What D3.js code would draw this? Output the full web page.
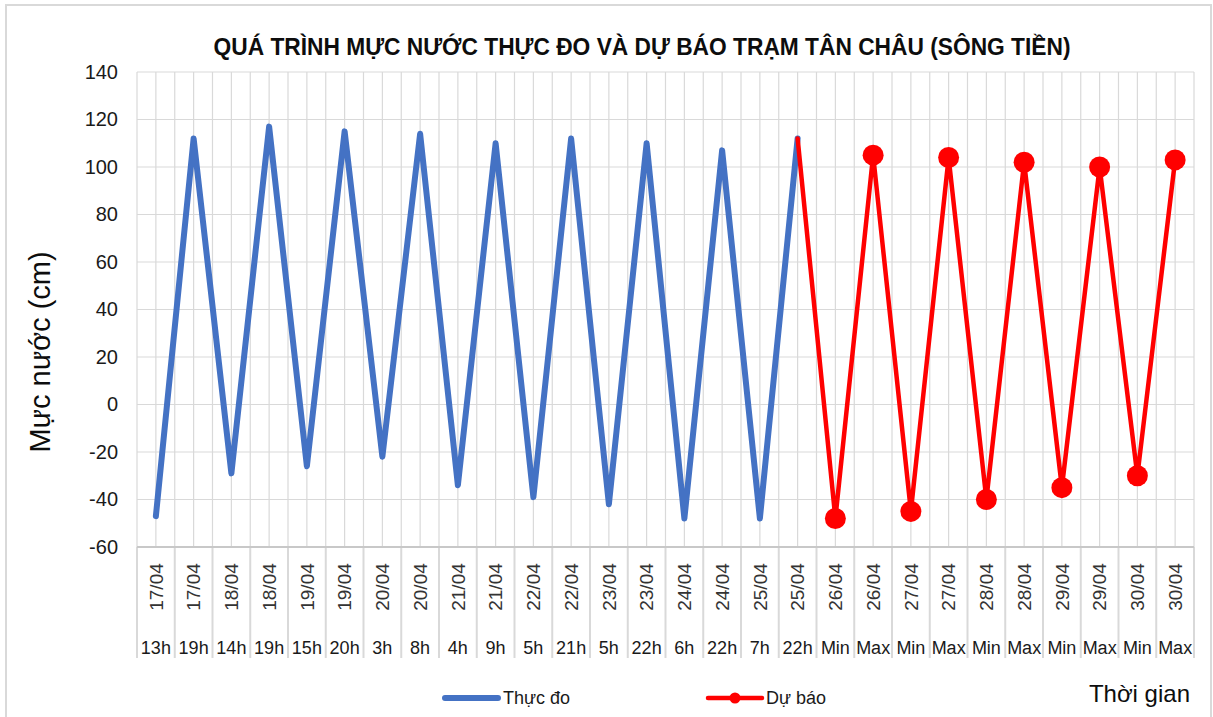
<!DOCTYPE html>
<html>
<head>
<meta charset="utf-8">
<script src="https://cdn.jsdelivr.net/npm/d3@7"></script>
<style>
  body { margin: 0; background: #fff; }
  svg { display: block; font-family: "Liberation Sans", Arial, sans-serif; }
</style>
</head>
<body>
<div id="chart"></div>
<script>
// categories (two-level x axis)
const dates = ['17/04', '17/04', '18/04', '18/04', '19/04', '19/04', '20/04', '20/04', '21/04', '21/04',
  '22/04', '22/04', '23/04', '23/04', '24/04', '24/04', '25/04', '25/04',
  '26/04', '26/04', '27/04', '27/04', '28/04', '28/04', '29/04', '29/04', '30/04', '30/04'];
const hours = ['13h', '19h', '14h', '19h', '15h', '20h', '3h', '8h', '4h', '9h',
  '5h', '21h', '5h', '22h', '6h', '22h', '7h', '22h',
  'Min', 'Max', 'Min', 'Max', 'Min', 'Max', 'Min', 'Max', 'Min', 'Max'];

// Thực đo (observed)
const observed = [-47, 112, -29, 117, -26, 115, -22, 114, -34, 110, -39, 112, -42, 110, -48, 107, -48, 112];
// Dự báo (forecast) – starts at the last observed point
const forecast = [null, null, null, null, null, null, null, null, null, null, null, null, null, null, null, null, null,
  112, -48, 105, -45, 104, -40, 102, -35, 100, -30, 103];

const yTicks = [-60, -40, -20, 0, 20, 40, 60, 80, 100, 120, 140];

const W = 1213, H = 717;
const plot = { left: 137, right: 1194, top: 72, bottom: 547 };

const svg = d3.select('#chart').append('svg')
  .attr('width', W)
  .attr('height', H);

// outer chart border
svg.append('rect')
  .attr('x', 6).attr('y', 5)
  .attr('width', 1205).attr('height', 730)
  .attr('fill', '#fff')
  .attr('stroke', '#d9d9d9')
  .attr('stroke-width', 2);

const idx = d3.range(dates.length);
const x = d3.scaleBand()
  .domain(idx)
  .range([plot.left, plot.right])
  .padding(0);
const bw = x.bandwidth();
const cx = i => x(i) + bw / 2;

const y = d3.scaleLinear()
  .domain([-60, 140])
  .range([plot.bottom, plot.top]);

// gridlines
const grid = svg.append('g').attr('stroke', '#d9d9d9').attr('stroke-width', 1.2);
grid.selectAll('line.h')
  .data(yTicks)
  .enter().append('line')
  .attr('x1', plot.left).attr('x2', plot.right)
  .attr('y1', d => y(d)).attr('y2', d => y(d));

const vLines = idx.map(i => x(i)).concat([plot.right]).concat(idx.map(cx));
grid.selectAll('line.v')
  .data(vLines)
  .enter().append('line')
  .attr('x1', d => d).attr('x2', d => d)
  .attr('y1', plot.top).attr('y2', plot.bottom);

// category dividers under the plot
const dividers = idx.map(i => x(i)).concat([plot.right]);
svg.append('g').selectAll('line')
  .data(dividers)
  .enter().append('line')
  .attr('x1', d => d).attr('x2', d => d)
  .attr('y1', plot.bottom).attr('y2', 658)
  .attr('stroke', '#d9d9d9')
  .attr('stroke-width', 2);

svg.append('line')
  .attr('x1', plot.left).attr('x2', plot.right)
  .attr('y1', plot.bottom).attr('y2', plot.bottom)
  .attr('stroke', '#c8c8c8')
  .attr('stroke-width', 2);

// y axis
const yAxis = svg.append('g')
  .attr('transform', 'translate(' + (plot.left - 19) + ',0)')
  .call(d3.axisLeft(y).tickValues(yTicks).tickSize(0).tickPadding(0).tickFormat(d => String(d)));
yAxis.select('.domain').remove();
yAxis.selectAll('text')
  .attr('font-family', '"Liberation Sans", Arial, sans-serif')
  .attr('font-size', 20)
  .attr('fill', '#1a1a1a');

// x axis: dates (rotated)
const xDates = svg.append('g')
  .attr('transform', 'translate(0,' + plot.bottom + ')')
  .call(d3.axisBottom(x).tickSize(0).tickFormat(i => dates[i]));
xDates.select('.domain').remove();
xDates.selectAll('text')
  .attr('font-family', '"Liberation Sans", Arial, sans-serif')
  .attr('font-size', 19)
  .attr('fill', '#333')
  .attr('text-anchor', 'middle')
  .attr('dy', '0.35em')
  .attr('transform', 'translate(0,40) rotate(-90)')
  .attr('y', 0)
  .attr('x', 0);

// x axis: hours
const xHours = svg.append('g')
  .attr('transform', 'translate(0,' + plot.bottom + ')')
  .call(d3.axisBottom(x).tickSize(0).tickFormat(i => hours[i]));
xHours.select('.domain').remove();
xHours.selectAll('text')
  .attr('font-family', '"Liberation Sans", Arial, sans-serif')
  .attr('font-size', 18)
  .attr('fill', '#1a1a1a')
  .attr('y', 107)
  .attr('dy', 0);

// series
const line = d3.line()
  .defined(d => d.v !== null)
  .x(d => cx(d.i))
  .y(d => y(d.v));

const obsData = observed.map((v, i) => ({ i: i, v: v }));
const fcData = forecast.map((v, i) => ({ i: i, v: v }));

svg.append('path')
  .datum(obsData)
  .attr('d', line)
  .attr('fill', 'none')
  .attr('stroke', '#4472c4')
  .attr('stroke-width', 6)
  .attr('stroke-linejoin', 'round')
  .attr('stroke-linecap', 'round');

svg.append('path')
  .datum(fcData)
  .attr('d', line)
  .attr('fill', 'none')
  .attr('stroke', '#ff0000')
  .attr('stroke-width', 4.5)
  .attr('stroke-linejoin', 'round')
  .attr('stroke-linecap', 'round');

svg.append('g').selectAll('circle')
  .data(fcData.filter(d => d.v !== null && d.i > observed.length - 1))
  .enter().append('circle')
  .attr('cx', d => cx(d.i))
  .attr('cy', d => y(d.v))
  .attr('r', 10.5)
  .attr('fill', '#ff0000');

// title
svg.append('text')
  .attr('x', 642)
  .attr('y', 55)
  .attr('text-anchor', 'middle')
  .attr('font-family', '"Liberation Sans Narrow", "Liberation Sans", Arial, sans-serif')
  .attr('font-weight', 'bold')
  .attr('font-size', 23)
  .attr('fill', '#0d0d0d')
  .attr('textLength', 857)
  .attr('lengthAdjust', 'spacingAndGlyphs')
  .text('QUÁ TRÌNH MỰC NƯỚC THỰC ĐO VÀ DỰ BÁO TRẠM TÂN CHÂU (SÔNG TIỀN)');

// y axis title
svg.append('text')
  .attr('transform', 'translate(50,352) rotate(-90)')
  .attr('text-anchor', 'middle')
  .attr('font-size', 29)
  .attr('fill', '#0d0d0d')
  .text('Mực nước (cm)');

// x axis title
svg.append('text')
  .attr('x', 1190)
  .attr('y', 702)
  .attr('text-anchor', 'end')
  .attr('font-size', 24)
  .attr('fill', '#0d0d0d')
  .text('Thời gian');

// legend
const legend = svg.append('g');
legend.append('line')
  .attr('x1', 445).attr('x2', 498)
  .attr('y1', 698).attr('y2', 698)
  .attr('stroke', '#4472c4')
  .attr('stroke-width', 6)
  .attr('stroke-linecap', 'round');
legend.append('text')
  .attr('x', 503).attr('y', 698)
  .attr('dy', '0.35em')
  .attr('font-size', 18)
  .attr('fill', '#1a1a1a')
  .text('Thực đo');
legend.append('line')
  .attr('x1', 708).attr('x2', 762)
  .attr('y1', 698).attr('y2', 698)
  .attr('stroke', '#ff0000')
  .attr('stroke-width', 4.5)
  .attr('stroke-linecap', 'round');
legend.append('circle')
  .attr('cx', 735).attr('cy', 698)
  .attr('r', 5.5)
  .attr('fill', '#ff0000');
legend.append('text')
  .attr('x', 766).attr('y', 698)
  .attr('dy', '0.35em')
  .attr('font-size', 18)
  .attr('fill', '#1a1a1a')
  .text('Dự báo');
</script>
</body>
</html>
